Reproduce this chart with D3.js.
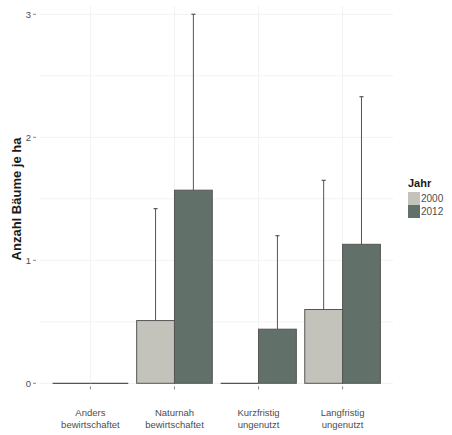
<!DOCTYPE html>
<html>
<head>
<meta charset="utf-8">
<script src="https://cdn.jsdelivr.net/npm/d3@7"></script>
<style>
  html, body { margin: 0; padding: 0; background: #fff; }
  svg { display: block; font-family: "Liberation Sans", Arial, sans-serif; }
</style>
</head>
<body>
<svg id="chart" width="452" height="435"></svg>
<script>
// Tree counts per hectare by management type, surveys 2000 and 2012
const categories = ["Anders\nbewirtschaftet", "Naturnah\nbewirtschaftet", "Kurzfristig\nungenutzt", "Langfristig\nungenutzt"];
const years = ["2000", "2012"];
const mean2000 = [0, 0.51, 0, 0.60];
const mean2012 = [0, 1.57, 0.44, 1.13];
const upper2000 = [0, 1.42, 0, 1.65];
const upper2012 = [0, 3.0, 1.20, 2.33];
const yTicks = [0, 1, 2, 3];
const yMinor = [0.5, 1.5, 2.5];
const fills = ["#c3c3bb", "#617069"];

const rows = [];
categories.forEach((c, i) => {
  rows.push({ cat: c, year: years[0], mean: mean2000[i], upper: upper2000[i] });
  rows.push({ cat: c, year: years[1], mean: mean2012[i], upper: upper2012[i] });
});

const svg = d3.select("#chart");
const panel = { left: 40, right: 393, top: 6, bottom: 383.3 };

// discrete axis: 0.6 units of expansion on each side, dodged bars 0.9 wide
const x = d3.scalePoint().domain(categories).range([panel.left, panel.right]).padding(0.6);
const unit = x.step();
const xYear = d3.scaleBand().domain(years).range([-0.45 * unit, 0.45 * unit]);

const y = d3.scaleLinear().domain([0, 1]).range([panel.bottom, panel.bottom - 123]);

const grid = svg.append("g");
yMinor.concat(yTicks).forEach(v => {
  grid.append("line")
    .attr("x1", panel.left).attr("x2", panel.right)
    .attr("y1", y(v)).attr("y2", y(v))
    .attr("stroke", "#f2f2f2").attr("stroke-width", 1);
});
categories.forEach(c => {
  grid.append("line")
    .attr("x1", x(c)).attr("x2", x(c))
    .attr("y1", panel.top).attr("y2", panel.bottom)
    .attr("stroke", "#f2f2f2").attr("stroke-width", 1);
});

// error bars (upper half only, drawn beneath the bars)
const eb = svg.append("g");
rows.filter(d => d.upper > d.mean).forEach(d => {
  const xc = x(d.cat) + xYear(d.year) + xYear.bandwidth() / 2;
  eb.append("line")
    .attr("x1", xc).attr("x2", xc)
    .attr("y1", y(d.mean)).attr("y2", y(d.upper))
    .attr("stroke", "#555").attr("stroke-width", 1);
  eb.append("line")
    .attr("x1", xc - 2).attr("x2", xc + 2)
    .attr("y1", y(d.upper)).attr("y2", y(d.upper))
    .attr("stroke", "#555").attr("stroke-width", 1.2);
});

// bars; zero-height bars collapse to their outline along the baseline
const bars = svg.append("g");
rows.forEach(d => {
  const x0 = x(d.cat) + xYear(d.year);
  if (d.mean > 0) {
    bars.append("rect")
      .attr("x", x0).attr("width", xYear.bandwidth())
      .attr("y", y(d.mean)).attr("height", y(0) - y(d.mean))
      .attr("fill", fills[years.indexOf(d.year)])
      .attr("stroke", "#555").attr("stroke-width", 1);
  } else {
    bars.append("line")
      .attr("x1", x0).attr("x2", x0 + xYear.bandwidth())
      .attr("y1", y(0)).attr("y2", y(0))
      .attr("stroke", "#555").attr("stroke-width", 1.2);
  }
});

// y axis
const ya = svg.append("g").attr("font-size", 9.5).attr("fill", "#4d4d4d");
yTicks.forEach(v => {
  ya.append("text").attr("x", 31).attr("y", y(v) + 3.4).attr("text-anchor", "end").attr("fill", "#4d4d4d").text(v);
  ya.append("line").attr("x1", 33).attr("x2", 36).attr("y1", y(v)).attr("y2", y(v)).attr("stroke", "#888");
});
svg.append("text")
  .attr("transform", "translate(21,199) rotate(-90)")
  .attr("text-anchor", "middle")
  .attr("font-size", 13).attr("font-weight", "bold").attr("fill", "#1a1a1a")
  .text("Anzahl Bäume je ha");

// x axis
const xa = svg.append("g");
categories.forEach(c => {
  xa.append("line").attr("x1", x(c)).attr("x2", x(c)).attr("y1", panel.bottom + 3).attr("y2", panel.bottom + 6).attr("stroke", "#888");
  const lines = c.split("\n");
  const t = xa.append("text").attr("text-anchor", "middle").attr("font-size", 9.5).attr("fill", "#4d4d4d");
  lines.forEach((l, k) => {
    t.append("tspan").attr("x", x(c)).attr("y", 416 + k * 11.5).text(l);
  });
});

// legend
const lg = svg.append("g");
lg.append("text").attr("x", 408).attr("y", 187).attr("font-size", 11).attr("font-weight", "bold").attr("fill", "#1a1a1a").text("Jahr");
years.forEach((yr, k) => {
  lg.append("rect").attr("x", 408).attr("y", 192 + k * 13).attr("width", 12).attr("height", 13).attr("fill", fills[k]);
  lg.append("text").attr("x", 421).attr("y", 202 + k * 13).attr("font-size", 10).attr("fill", "#4d4d4d").text(yr);
});
</script>
</body>
</html>
